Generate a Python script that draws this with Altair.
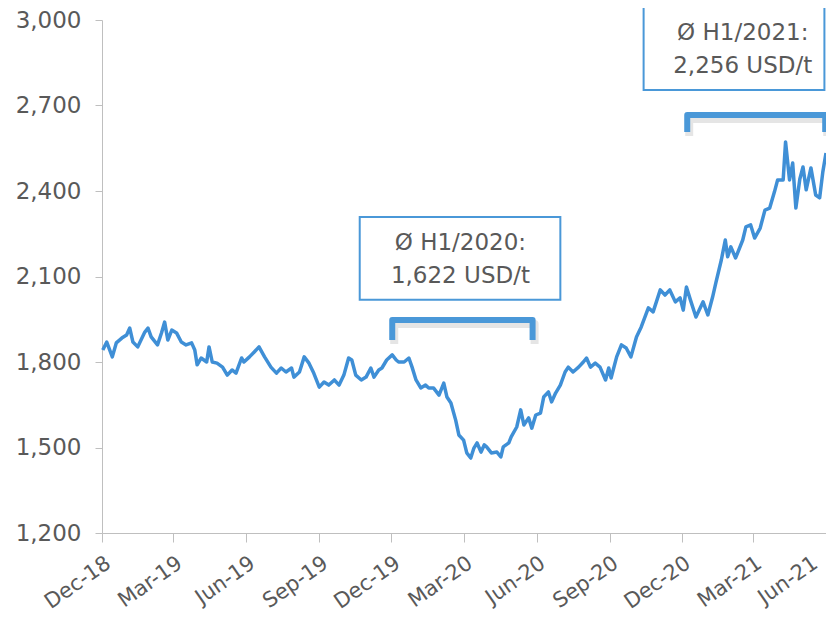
import altair as alt
import pandas as pd

# ---- data ----
dates = ["2018-12-02", "2018-12-07", "2018-12-14", "2018-12-19", "2018-12-26", "2019-01-01", "2019-01-05",
         "2019-01-09", "2019-01-15", "2019-01-24", "2019-01-28", "2019-02-01", "2019-02-09", "2019-02-14",
         "2019-02-18", "2019-02-22", "2019-02-27", "2019-03-05", "2019-03-11", "2019-03-17", "2019-03-24",
         "2019-03-28", "2019-03-31", "2019-04-05", "2019-04-12", "2019-04-15", "2019-04-19", "2019-04-25",
         "2019-05-02", "2019-05-08", "2019-05-14", "2019-05-19", "2019-05-26", "2019-05-29", "2019-06-05",
         "2019-06-11", "2019-06-17", "2019-06-24", "2019-07-02", "2019-07-09", "2019-07-15", "2019-07-21",
         "2019-07-28", "2019-07-31", "2019-08-07", "2019-08-13", "2019-08-19", "2019-08-25", "2019-09-01",
         "2019-09-07", "2019-09-13", "2019-09-20", "2019-09-26", "2019-10-02", "2019-10-08", "2019-10-12",
         "2019-10-17", "2019-10-24", "2019-10-30", "2019-11-05", "2019-11-09", "2019-11-15", "2019-11-19",
         "2019-11-25", "2019-12-02", "2019-12-07", "2019-12-10", "2019-12-17", "2019-12-23", "2019-12-27",
         "2020-01-01", "2020-01-07", "2020-01-13", "2020-01-17", "2020-01-23", "2020-01-30", "2020-02-05",
         "2020-02-09", "2020-02-14", "2020-02-20", "2020-02-24", "2020-03-01", "2020-03-05", "2020-03-10",
         "2020-03-14", "2020-03-18", "2020-03-23", "2020-03-27", "2020-03-30", "2020-04-05", "2020-04-12",
         "2020-04-17", "2020-04-20", "2020-04-27", "2020-04-30", "2020-05-07", "2020-05-12", "2020-05-16",
         "2020-05-22", "2020-05-26", "2020-05-31", "2020-06-06", "2020-06-10", "2020-06-16", "2020-06-20",
         "2020-06-25", "2020-07-01", "2020-07-07", "2020-07-11", "2020-07-17", "2020-07-24", "2020-07-30",
         "2020-08-03", "2020-08-08", "2020-08-14", "2020-08-20", "2020-08-27", "2020-08-31", "2020-09-03",
         "2020-09-10", "2020-09-16", "2020-09-22", "2020-09-28", "2020-10-05", "2020-10-11", "2020-10-20",
         "2020-10-26", "2020-11-04", "2020-11-10", "2020-11-16", "2020-11-23", "2020-11-29", "2020-12-03",
         "2020-12-07", "2020-12-12", "2020-12-19", "2020-12-28", "2021-01-03", "2021-01-09", "2021-01-13",
         "2021-01-20", "2021-01-25", "2021-01-28", "2021-02-01", "2021-02-07", "2021-02-16", "2021-02-20",
         "2021-02-26", "2021-03-03", "2021-03-10", "2021-03-16", "2021-03-22", "2021-03-28", "2021-04-01",
         "2021-04-08", "2021-04-11", "2021-04-16", "2021-04-20", "2021-04-24", "2021-04-29", "2021-05-03",
         "2021-05-07", "2021-05-13", "2021-05-19", "2021-05-24", "2021-05-28", "2021-06-01"]

prices = [1842, 1870, 1818, 1867, 1884, 1895, 1919,
          1870, 1853, 1905, 1919, 1888, 1860, 1902,
          1940, 1877, 1912, 1902, 1870, 1860, 1867,
          1842, 1790, 1814, 1800, 1853, 1800, 1796,
          1782, 1754, 1772, 1761, 1814, 1800, 1818,
          1835, 1853, 1818, 1782, 1761, 1779, 1765,
          1779, 1747, 1765, 1818, 1796, 1761, 1712,
          1730, 1719, 1737, 1719, 1754, 1814, 1807,
          1754, 1737, 1747, 1779, 1747, 1772, 1779,
          1807, 1825, 1807, 1800, 1800, 1814, 1782,
          1737, 1709, 1719, 1709, 1709, 1684, 1726,
          1677, 1656, 1596, 1544, 1526, 1481, 1463,
          1498, 1516, 1484, 1509, 1502, 1481, 1484,
          1467, 1502, 1516, 1537, 1572, 1632, 1579,
          1604, 1568, 1614, 1621, 1677, 1695, 1660,
          1691, 1719, 1765, 1782, 1765, 1782, 1800,
          1814, 1782, 1796, 1782, 1737, 1779, 1744,
          1818, 1860, 1849, 1818, 1888, 1923, 1990,
          1976, 2053, 2035, 2053, 2011, 2025, 1982,
          2063, 2018, 1958, 2011, 1965, 2028, 2077,
          2158, 2228, 2169, 2204, 2165, 2228, 2274,
          2281, 2235, 2270, 2333, 2340, 2397, 2439,
          2439, 2572, 2439, 2498, 2340, 2442, 2484,
          2404, 2481, 2386, 2376, 2467, 2533]

y_ticks = [1200, 1500, 1800, 2100, 2400, 2700, 3000]
x_tick_dates = [(2018, 12), (2019, 3), (2019, 6), (2019, 9), (2019, 12), (2020, 3),
                (2020, 6), (2020, 9), (2020, 12), (2021, 3), (2021, 6)]

labels = ["Ø H1/2020:\n1,622 USD/t", "Ø H1/2021:\n2,256 USD/t"]
label_dates = ["2020-02-26", "2021-02-16"]
label_values = [2218, 2954]          # first text line
box_start = ["2019-10-22", "2020-10-14"]
box_end = ["2020-07-01", "2021-05-30"]
box_low = [2018, 2754]
box_high = [2309, 3046]

bracket_group = ["H1/2020"] * 4 + ["H1/2021"] * 4
bracket_order = [0, 1, 2, 3, 0, 1, 2, 3]
bracket_dates = ["2019-12-02", "2019-12-02", "2020-05-27", "2020-05-27",
                 "2020-12-08", "2020-12-08", "2021-05-31", "2021-05-31"]
bracket_values = [1877, 1947, 1947, 1877, 2607, 2667, 2667, 2607]

# ---- build tables ----
BLUE = "#3F8FD6"
GRAY_TXT = "#595959"
FONT = "DejaVu Sans"

df = pd.DataFrame({"date": pd.to_datetime(dates), "price": prices})
ann = pd.DataFrame({"label": labels, "date": pd.to_datetime(label_dates), "value": label_values,
                    "x1": pd.to_datetime(box_start), "x2": pd.to_datetime(box_end),
                    "y1": box_low, "y2": box_high})
br = pd.DataFrame({"grp": bracket_group, "ord": bracket_order,
                   "date": pd.to_datetime(bracket_dates), "value": bracket_values})

x_domain = [alt.DateTime(year=2018, month=12, date=1), alt.DateTime(year=2021, month=6, date=1)]
x_values = [alt.DateTime(year=y, month=m, date=1) for y, m in x_tick_dates]

x_scale = alt.Scale(domain=x_domain)
y_scale = alt.Scale(domain=[1200, 3000], nice=False, zero=False)

x_axis = alt.Axis(values=x_values, format="%b-%y", labelAngle=-35, labelAlign="right",
                  labelBaseline="top", labelPadding=10, labelFont=FONT, labelFontSize=21,
                  labelColor=GRAY_TXT, tickSize=9, tickColor="#BFBFBF", domainColor="#BFBFBF",
                  grid=False, title=None, labelOverlap=False, labelFlush=False,
                  labelOffset={"condition": {"test": "datum.value >= datetime(2021, 4, 1)",
                                             "value": -17},
                               "value": 0})
y_axis = alt.Axis(values=y_ticks, format=",.0f", labelFont=FONT, labelFontSize=23,
                  labelColor=GRAY_TXT, labelPadding=14, tickSize=7, tickColor="#BFBFBF",
                  domainColor="#BFBFBF", grid=False, title=None)

line = alt.Chart(df).mark_line(color=BLUE, strokeWidth=3.5, strokeJoin="round").encode(
    x=alt.X("date:T", scale=x_scale, axis=x_axis),
    y=alt.Y("price:Q", scale=y_scale, axis=y_axis),
)

boxes = alt.Chart(ann).mark_rect(fill="white", stroke="#4A98D8", strokeWidth=2).encode(
    x="x1:T", x2="x2:T", y="y1:Q", y2="y2:Q"
)

texts = alt.Chart(ann).mark_text(font=FONT, fontSize=23, color=GRAY_TXT, lineBreak="\n",
                                 lineHeight=33, align="center", baseline="middle").encode(
    x="date:T", y="value:Q", text="label:N"
)

shadow = alt.Chart(br).mark_line(color="#000000", opacity=0.10, strokeWidth=8,
                                 strokeJoin="round", xOffset=2, yOffset=4).encode(
    x="date:T", y="value:Q", detail="grp:N", order="ord:Q"
)

brackets = alt.Chart(br).mark_line(color="#4A98D8", strokeWidth=6, strokeJoin="round").encode(
    x="date:T", y="value:Q", detail="grp:N", order="ord:Q"
)

chart = alt.layer(line, shadow, brackets, boxes, texts).properties(
    width=724, height=513,
    autosize=alt.AutoSizeParams(type="none"),
    padding={"left": 94, "top": 12, "right": 0, "bottom": 84},
    background="white",
).configure_view(stroke=None)

chart.save("out.html", embed_options={"renderer": "svg", "actions": False})
